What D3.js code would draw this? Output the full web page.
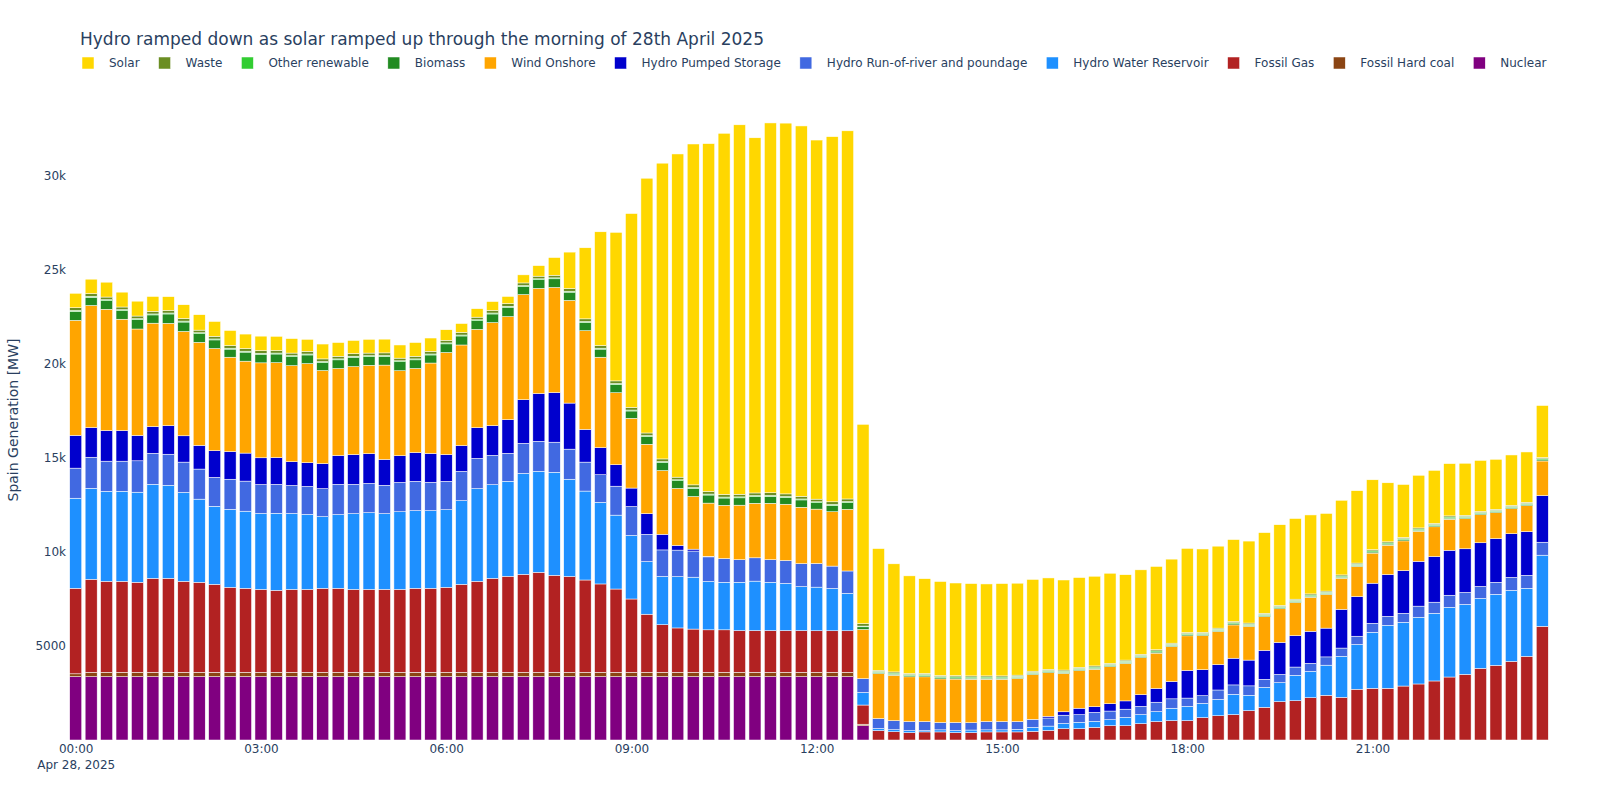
<!DOCTYPE html>
<html>
<head>
<meta charset="utf-8">
<script src="https://cdn.jsdelivr.net/npm/d3@7"></script>
<style>
  body { margin: 0; background: #fff; }
  svg { font-family: "DejaVu Sans", verdana, arial, sans-serif; }
</style>
</head>
<body>
<svg width="1600" height="800"></svg>
<script>
// 15 minute generation values for Spain, 28 April 2025 (MW)
const nuclear = [
  3370,3370,3370,3370,3370,3370,3370,3370,3370,3370,3370,3370,3370,3370,3370,3370,
  3370,3370,3370,3370,3370,3370,3370,3370,3370,3370,3370,3370,3370,3370,3370,3370,
  3370,3370,3370,3370,3370,3370,3370,3370,3370,3370,3370,3370,3370,3370,3370,3370,
  3370,3370,3370,760,0,0,0,0,0,0,0,0,0,0,0,0,
  0,0,0,0,0,0,0,0,0,0,0,0,0,0,0,0,
  0,0,0,0,0,0,0,0,0,0,0,0,0,0,0,0];
const hardCoal = [
  150,230,230,230,230,230,230,230,230,230,230,230,230,230,230,230,
  230,230,230,230,230,230,230,230,230,230,230,230,230,230,230,230,
  230,230,230,230,230,230,230,230,230,230,230,230,230,230,230,230,
  230,230,230,80,0,0,0,0,0,0,0,0,0,0,0,0,
  0,0,0,0,0,0,0,0,0,0,0,0,0,0,0,0,
  0,0,0,0,0,0,0,0,0,0,0,0,0,0,0,0];
const gas = [
  4550,4950,4840,4840,4790,5000,5000,4840,4790,4680,4520,4470,4410,4360,4410,4410,
  4470,4470,4410,4410,4410,4410,4470,4470,4520,4680,4840,5000,5110,5210,5320,5160,
  5100,4910,4700,4430,3900,3090,2530,2360,2300,2260,2260,2220,2220,2220,2220,2220,
  2210,2210,2210,1020,500,440,390,430,430,390,390,430,430,430,460,510,
  600,600,670,760,760,870,980,1030,1030,1190,1290,1350,1560,1740,2040,2090,
  2250,2380,2270,2700,2750,2750,2870,2980,3140,3350,3490,3810,3970,4180,4450,6050];
const reservoir = [
  4790,4840,4790,4790,4790,5000,4950,4730,4420,4150,4150,4100,4040,4100,4040,3990,
  3810,3920,4030,4080,4030,4130,4130,4130,4130,4450,4930,4980,5050,5370,5370,5480,
  5170,4730,4340,3930,3380,2800,2570,2730,2760,2570,2530,2570,2630,2570,2510,2340,
  2320,2250,1990,670,110,110,110,70,110,110,140,110,110,140,210,230,
  280,340,320,320,440,480,530,660,760,760,870,1080,820,1060,1010,1350,
  1400,1600,2180,2380,2980,3350,3390,3550,3600,3710,3720,3720,3780,3780,3620,3780];
const runOfRiver = [
  1600,1650,1600,1600,1670,1650,1650,1610,1600,1540,1600,1600,1540,1540,1490,1490,
  1490,1610,1560,1560,1510,1560,1560,1510,1510,1560,1610,1560,1490,1600,1600,1600,
  1600,1540,1470,1540,1540,1450,1410,1410,1390,1310,1260,1200,1240,1200,1220,1220,
  1260,1190,1190,730,530,480,480,480,390,430,390,440,440,410,430,430,
  440,410,480,460,440,440,500,500,440,410,500,500,500,430,440,440,
  430,440,440,440,480,480,480,590,590,640,640,640,640,690,690,690];
const pumped = [
  1740,1580,1630,1630,1350,1420,1520,1400,1260,1420,1470,1490,1420,1420,1260,1260,
  1330,1530,1580,1580,1370,1420,1530,1530,1420,1370,1630,1580,1790,2320,2540,2640,
  2450,1740,1440,1140,980,1100,830,250,100,30,0,0,0,0,0,0,
  0,0,0,0,0,0,0,0,0,0,0,0,0,0,0,90,
  180,340,300,390,440,620,730,920,1470,1380,1350,1420,1370,1540,1700,1670,
  1700,1530,2060,2110,2130,2220,2270,2380,2430,2390,2320,2320,2320,2320,2320,2480];
const wind = [
  6120,6490,6450,5920,5660,5500,5440,5550,5480,5430,5020,4890,5050,5050,5110,5270,
  4950,4630,4680,4700,5020,4520,4470,4810,5430,5350,5230,5480,5480,5590,5590,5590,
  5460,5250,4810,3830,3710,3690,3390,3030,2800,2830,2830,2900,2900,3000,2990,3000,
  2890,2890,3280,2620,2390,2410,2380,2380,2320,2310,2310,2250,2250,2290,2380,2320,
  2040,2000,1990,1970,1990,1970,1880,1860,1840,1810,1760,1770,1790,1790,1790,1760,
  1810,1790,1650,1600,1600,1560,1580,1600,1580,1650,1600,1490,1380,1330,1380,1840];
const biomass = [
  480,440,460,460,500,440,500,500,460,460,430,480,460,460,480,460,
  430,460,500,460,460,480,460,430,460,480,460,460,500,430,460,460,
  440,440,430,440,390,410,430,410,430,430,390,390,360,370,360,390,
  340,340,360,140,60,60,60,60,60,60,60,60,60,60,60,60,
  60,60,60,60,60,60,60,60,60,60,60,60,60,60,60,60,
  60,60,60,60,60,60,60,60,60,60,60,60,60,60,60,60];
const otherRenewable = [
  50,50,50,50,50,50,50,50,50,50,50,50,50,50,50,50,
  50,50,50,50,50,50,50,50,50,50,50,50,50,50,50,50,
  50,50,50,50,50,50,50,50,50,50,50,50,50,50,50,50,
  50,50,50,40,60,60,60,60,60,60,60,60,60,60,60,60,
  60,60,60,60,60,60,60,60,60,60,60,60,60,60,60,60,
  60,60,60,60,60,60,60,60,60,60,60,60,60,60,60,60];
const waste = [
  140,140,140,140,140,140,140,140,140,140,140,140,140,140,140,140,
  140,140,140,140,140,140,140,140,140,140,140,140,140,140,140,140,
  140,140,140,140,140,140,140,140,140,140,140,140,140,140,140,140,
  140,140,140,130,60,60,60,60,60,60,60,60,60,60,60,60,
  60,60,60,60,60,60,60,60,60,60,60,60,60,60,60,60,
  60,60,60,60,60,60,60,60,60,60,60,60,60,60,60,60];
const solar = [
  770,770,790,790,790,790,730,730,820,790,800,770,770,750,770,640,
  790,730,700,730,730,700,730,710,560,470,450,470,380,430,560,940,
  1940,3780,6050,7900,10310,13550,15730,17190,18130,18500,19210,19650,18890,19670,19720,19700,
  19100,19420,19580,10600,6470,5750,5190,5040,5000,4930,4910,4890,4910,4890,4880,4860,
  4790,4770,4770,4790,4540,4490,4430,4470,4470,4430,4360,4360,4360,4290,4290,4290,
  4200,4130,3970,3850,3720,3140,2820,2800,2820,2780,2770,2710,2660,2680,2680,2770];

// stacking order, bottom to top
const seriesNames = ["Nuclear", "Fossil Hard coal", "Fossil Gas", "Hydro Water Reservoir",
  "Hydro Run-of-river and poundage", "Hydro Pumped Storage", "Wind Onshore",
  "Biomass", "Other renewable", "Waste", "Solar"];
const seriesValues = [nuclear, hardCoal, gas, reservoir, runOfRiver, pumped, wind,
  biomass, otherRenewable, waste, solar];
const seriesColors = ["#800080", "#8B4513", "#B22222", "#1E90FF", "#4169E1", "#0000CD",
  "#FFA500", "#228B22", "#32CD32", "#6B8E23", "#FFD700"];

const yTickValues = [5000, 10000, 15000, 20000, 25000, 30000];
const yTickLabels = ["5000", "10k", "15k", "20k", "25k", "30k"];

const times = d3.range(96).map(i => new Date(2025, 3, 28, 0, i * 15));
const rows = times.map((t, i) => {
  const r = {time: t};
  seriesNames.forEach((n, k) => r[n] = seriesValues[k][i]);
  return r;
});

const textColor = "#2a3f5f";
const fontFamily = '"DejaVu Sans", verdana, arial, sans-serif';
const svg = d3.select("svg");

const x = d3.scaleTime()
  .domain([new Date(2025, 3, 27, 23, 52, 30), new Date(2025, 3, 28, 23, 52, 30)])
  .range([68, 1550]);
const y = d3.scaleLinear().domain([0, 34040]).range([740, 100]);
const color = d3.scaleOrdinal().domain(seriesNames).range(seriesColors);

const bw = 12;
const stacked = d3.stack().keys(seriesNames)(rows);

svg.append("g")
  .selectAll("g")
  .data(stacked)
  .join("g")
    .attr("fill", d => color(d.key))
  .selectAll("rect")
  .data(d => d.filter(p => p[1] - p[0] > 0))
  .join("rect")
    .attr("x", d => x(d.data.time) - bw / 2)
    .attr("y", d => y(d[1]))
    .attr("width", bw)
    .attr("height", d => y(d[0]) - y(d[1]))
    .attr("stroke", "white")
    .attr("stroke-width", 0.5);

// x axis
const xAxis = svg.append("g")
  .attr("transform", "translate(0,740)")
  .call(d3.axisBottom(x)
    .ticks(d3.timeHour.every(3))
    .tickFormat(d3.timeFormat("%H:%M"))
    .tickSize(0)
    .tickPadding(4));
xAxis.select(".domain").remove();
xAxis.selectAll("text")
  .attr("fill", textColor)
  .style("font-size", "12px")
  .style("font-family", fontFamily);
xAxis.selectAll(".tick").filter((d, i) => i === 0)
  .append("text")
    .attr("fill", textColor)
    .attr("y", 20)
    .attr("dy", "0.71em")
    .style("font-size", "12px")
    .style("font-family", fontFamily)
    .text("Apr 28, 2025");

// y axis
const yAxis = svg.append("g")
  .attr("transform", "translate(68,0)")
  .call(d3.axisLeft(y)
    .tickValues(yTickValues)
    .tickFormat((d, i) => yTickLabels[i])
    .tickSize(0)
    .tickPadding(2));
yAxis.select(".domain").remove();
yAxis.selectAll("text")
  .attr("fill", textColor)
  .style("font-size", "12px")
  .style("font-family", fontFamily);

svg.append("text")
  .attr("transform", "translate(18,420) rotate(-90)")
  .attr("text-anchor", "middle")
  .attr("fill", textColor)
  .style("font-size", "14px")
  .text("Spain Generation [MW]");

// title
svg.append("text")
  .attr("x", 80)
  .attr("y", 45)
  .attr("fill", textColor)
  .style("font-size", "17px")
  .text("Hydro ramped down as solar ramped up through the morning of 28th April 2025");

// legend, top of stack first
const legend = svg.append("g").attr("transform", "translate(0,63)");
let lx = 88;
seriesNames.slice().reverse().forEach(name => {
  const item = legend.append("g").attr("transform", `translate(${lx},0)`);
  item.append("rect")
    .attr("x", -6).attr("y", -6)
    .attr("width", 12).attr("height", 12)
    .attr("fill", color(name))
    .attr("stroke", "white")
    .attr("stroke-width", 0.5);
  const t = item.append("text")
    .attr("x", 21)
    .attr("y", 4)
    .attr("fill", textColor)
    .style("font-size", "12px")
    .text(name);
  lx += 21 + t.node().getComputedTextLength() + 25;
});
</script>
</body>
</html>
